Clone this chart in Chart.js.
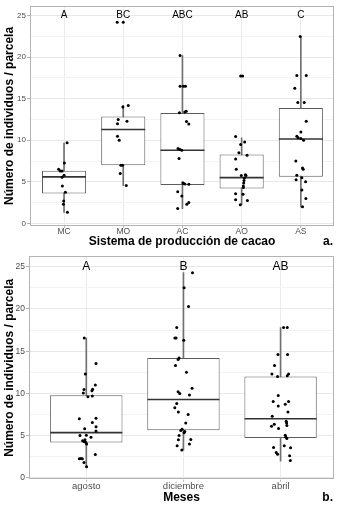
<!DOCTYPE html>
<html>
<head>
<meta charset="utf-8">
<script src="https://cdn.jsdelivr.net/npm/chart.js@4.4.1/dist/chart.umd.min.js"></script>
<style>
  html, body { margin: 0; padding: 0; background: #fff; overflow: hidden; }
  #panelA { position: relative; width: 343px; height: 250px; }
  #panelB { position: relative; width: 343px; height: 258px; }
  canvas { display: block; }
</style>
</head>
<body>
<div id="panelA"><canvas id="chartA"></canvas></div>
<div id="panelB"><canvas id="chartB"></canvas></div>
<script>
// ---- a. sistema de produccion ----
const sistemas = ['MC', 'MO', 'AC', 'AO', 'AS']
const letrasSistema = ['A', 'BC', 'ABC', 'AB', 'C']
const q1Sistema = [3.6, 7.0, 4.63, 4.2, 5.62]
const medianaSistema = [5.6, 11.3, 8.8, 5.5, 10.15]
const q3Sistema = [6.33, 12.85, 13.27, 8.28, 13.9]
const minSistema = [1.3, 4.55, 1.78, 2.26, 1.98]
const maxSistema = [9.67, 14.2, 20.2, 10.3, 22.47]
const puntosSistema = [
    [9.7, 7.25, 6.5, 6.3, 6.3, 5.8, 5.55, 4.5, 3.75, 2.7, 2.3, 1.35],
    [24.2, 24.2, 14.0, 14.2, 12.5, 12.0, 12.3, 10.5, 10.0, 7.0, 7.0, 6.0, 4.55],
    [20.2, 16.5, 16.5, 16.5, 13.5, 13.4, 13.3, 12.25, 11.95, 9.0, 8.9, 8.8, 7.8, 4.9, 4.8, 4.75, 4.7, 3.8, 3.3, 2.5, 2.3, 1.8],
    [17.75, 17.75, 10.45, 9.8, 9.5, 8.5, 8.2, 7.75, 6.5, 5.75, 5.85, 5.75, 5.45, 5.15, 4.85, 4.5, 4.3, 3.55, 3.5, 2.85, 2.75, 2.25],
    [22.5, 17.8, 17.8, 16.25, 14.55, 14.55, 12.3, 11.0, 10.5, 10.3, 10.2, 10.0, 7.5, 6.65, 6.5, 5.8, 5.5, 5.25, 5.0, 4.0, 3.0, 2.0]
]
// desplazamiento horizontal (jitter) de cada punto
const jitterSistema = [
    [0.051, 0.006, -0.091, -0.063, -0.034, 0, -0.034, -0.028, 0.023, -0.006, -0.011, 0.057],
    [-0.102, 0.0, -0.006, 0.085, -0.085, -0.097, 0.063, -0.097, -0.068, -0.04, -0.011, -0.051, 0.051],
    [-0.04, -0.04, 0.017, 0.051, 0.063, 0.04, -0.051, 0.068, 0.108, -0.074, -0.04, -0.011, -0.057, 0.006, 0.017, 0.04, 0.108, -0.08, -0.011, 0.108, 0.074, -0.08],
    [-0.017, 0.017, -0.102, 0.051, -0.017, -0.046, 0.091, -0.102, -0.091, -0.006, 0.063, 0.074, 0.046, 0.04, 0.034, 0.028, 0.028, -0.102, 0.023, -0.102, 0.097, -0.023],
    [-0.011, -0.068, 0.091, -0.102, -0.051, 0.057, 0.091, 0, -0.068, -0.046, 0, 0.046, -0.085, 0.028, 0.04, -0.068, 0.017, -0.08, 0.08, 0.017, 0.085, 0.028]
]

// ---- b. meses ----
const meses = ['agosto', 'diciembre', 'abril']
const letrasMes = ['A', 'B', 'AB']
const q1Mes = [4.17, 5.62, 4.72]
const medianaMes = [5.35, 9.28, 7.0]
const q3Mes = [9.79, 14.2, 12.0]
const minMes = [1.3, 3.27, 1.97]
const maxMes = [16.55, 24.3, 17.8]
const puntosMes = [
    [16.55, 13.55, 12.3, 11.0, 10.5, 10.45, 10.3, 10.05, 9.7, 9.6, 7.0, 7.05, 6.55, 6.05, 5.8, 5.55, 5.0, 5.05, 4.8, 4.5, 4.4, 4.3, 4.2, 4.0, 2.75, 2.3, 2.25, 2.25, 1.8, 1.3],
    [24.3, 22.5, 20.3, 17.8, 16.55, 16.55, 16.3, 14.2, 14.0, 13.3, 12.5, 10.6, 10.2, 10.0, 9.8, 8.8, 8.3, 7.8, 7.5, 6.5, 5.75, 5.6, 5.5, 5.35, 5.0, 4.55, 4.5, 4.0, 3.8, 3.3],
    [17.8, 17.8, 14.6, 14.6, 13.3, 12.3, 12.0, 12.1, 12.3, 9.75, 9.05, 9.05, 8.7, 8.5, 7.8, 7.3, 6.7, 6.5, 6.2, 6.35, 6.1, 5.85, 5.05, 4.8, 4.65, 3.8, 3.6, 3.55, 3.0, 2.8, 2.6, 2.05]
]
const jitterMes = [
    [-0.021, 0.1, -0.01, 0.093, 0.065, -0.024, 0.058, -0.031, 0.062, 0.017, -0.072, 0.1, 0.062, 0.1, -0.017, 0.1, -0.065, 0, 0.048, -0.014, -0.038, -0.024, -0.007, 0.003, 0.093, -0.055, -0.072, -0.041, -0.024, 0.003],
    [0.093, 0.007, 0.052, -0.069, -0.089, -0.076, 0.003, -0.045, -0.055, -0.082, 0.031, 0.089, -0.055, -0.038, 0.062, -0.069, -0.089, -0.052, 0.048, 0.024, -0.014, -0.027, 0.014, 0.007, -0.045, 0.076, -0.052, 0.062, -0.065, -0.017],
    [0.031, 0.069, -0.027, 0.072, -0.062, -0.089, -0.031, 0.069, 0.082, -0.024, -0.076, 0.082, 0.048, -0.024, 0.076, -0.086, 0.058, 0.062, 0.065, -0.065, -0.093, -0.021, 0.048, 0.055, 0.065, 0.038, -0.072, 0.103, -0.045, -0.031, 0.093, 0.1]
]

const ticksY = [0, 2.5, 5, 7.5, 10, 12.5, 15, 17.5, 20, 22.5, 25]
const tituloY = 'Número de individuos / parcela'

Chart.defaults.font.family = '"Liberation Sans", Arial, sans-serif'

// letras de significancia, borde del panel y etiqueta a./b.
const marcoPanel = {
    id: 'marcoPanel',
    afterDraw(chart, args, opts) {
        const { ctx, chartArea: a, scales: { x, y } } = chart
        ctx.save()
        ctx.fillStyle = '#000'
        ctx.textAlign = 'center'
        ctx.textBaseline = 'middle'
        ctx.font = opts.letraSize + 'px "Liberation Sans", Arial, sans-serif'
        opts.letras.forEach((l, i) => {
            ctx.fillText(l, x.getPixelForValue(i), y.getPixelForValue(25))
        })

        ctx.strokeStyle = '#b3b3b3'
        ctx.lineWidth = 1
        ctx.strokeRect(Math.round(a.left) + 0.5, Math.round(a.top) + 0.5, Math.round(a.width) - 1, Math.round(a.height) - 1)

        ctx.textAlign = 'right'
        ctx.font = 'bold 12px "Liberation Sans", Arial, sans-serif'
        ctx.fillText(opts.tag, a.right - 1, chart.height - opts.tagOffset)
        ctx.restore()
    }
}

function crearPanel(canvasId, d, s) {
    const bigotes = d.lo.map((v, i) => ({ x: i, y: [v, d.hi[i]] }))
    const cajas = d.q1.map((v, i) => ({ x: i, y: [v, d.q3[i]] }))
    const medianas = d.med.map((v, i) => ({ x: i, y: v }))
    const puntos = []
    d.puntos.forEach((grupo, i) => {
        grupo.forEach((v, k) => puntos.push({ x: i + d.jitter[i][k], y: v }))
    })

    return new Chart(document.getElementById(canvasId), {
        type: 'bar',
        data: {
            datasets: [
                { type: 'bar', data: bigotes, backgroundColor: '#707070', barThickness: 1, grouped: false, order: 4 },
                {
                    type: 'bar', data: cajas, backgroundColor: '#ffffff', borderColor: '#5c5c5c', borderWidth: 1,
                    borderSkipped: false, grouped: false, barPercentage: 0.745, categoryPercentage: 1, order: 3
                },
                {
                    type: 'scatter', data: medianas, pointStyle: 'line', pointRadius: s.medRadius, pointHoverRadius: s.medRadius,
                    pointBorderColor: '#333333', pointBorderWidth: 1.6, order: 2
                },
                {
                    type: 'scatter', data: puntos, pointRadius: 1.5, pointHoverRadius: 1.5,
                    pointBackgroundColor: '#000', pointBorderWidth: 0, order: 1
                }
            ]
        },
        options: {
            responsive: true,
            maintainAspectRatio: false,
            animation: false,
            events: [],
            layout: { autoPadding: false, padding: { top: s.padTop, right: 9, left: 0, bottom: 0 } },
            plugins: {
                legend: { display: false },
                tooltip: { enabled: false },
                marcoPanel: { letras: d.letras, letraSize: s.letraSize, tag: s.tag, tagOffset: s.tagOffset }
            },
            scales: {
                x: {
                    type: 'linear',
                    offset: false,
                    min: s.xMin,
                    max: s.xMax,
                    afterBuildTicks: ax => { ax.ticks = d.labels.map((l, i) => ({ value: i })) },
                    afterFit: ax => { ax.height = s.xHeight },
                    ticks: {
                        callback: v => d.labels[v],
                        color: '#4d4d4d',
                        font: { size: s.xTickSize, lineHeight: 1 },
                        padding: s.xTickPad,
                        maxRotation: 0,
                        autoSkip: false
                    },
                    grid: { offset: false, color: '#ebebeb', tickColor: '#b3b3b3', tickLength: 2 },
                    border: { display: false },
                    title: {
                        display: true, text: d.tituloX, color: '#000',
                        font: { size: 12, weight: 'bold' },
                        padding: { top: 0, bottom: s.titlePad }
                    }
                },
                y: {
                    min: s.yMin,
                    max: s.yMax,
                    afterBuildTicks: ax => { ax.ticks = ticksY.map(v => ({ value: v })) },
                    afterFit: ax => { ax.width = s.yWidth },
                    ticks: {
                        callback: v => (v % 5 === 0 ? String(v) : ''),
                        color: '#4d4d4d',
                        font: { size: s.yTickSize },
                        padding: 1,
                        autoSkip: false
                    },
                    grid: {
                        color: c => (c.tick && c.tick.value % 5 === 0 ? '#e8e8e8' : '#f3f3f3'),
                        tickColor: c => (c.tick && c.tick.value % 5 === 0 ? '#b3b3b3' : 'rgba(0,0,0,0)'),
                        tickLength: 3
                    },
                    border: { display: false },
                    title: {
                        display: true, text: tituloY, color: '#000',
                        font: { size: 12, weight: 'bold' },
                        padding: { top: 2, bottom: 0 }
                    }
                }
            }
        },
        plugins: [marcoPanel]
    })
}

crearPanel('chartA', {
    labels: sistemas, letras: letrasSistema, tituloX: 'Sistema de producción de cacao',
    q1: q1Sistema, med: medianaSistema, q3: q3Sistema, lo: minSistema, hi: maxSistema,
    puntos: puntosSistema, jitter: jitterSistema
}, {
    padTop: 3, xMin: -0.575, xMax: 4.56, yMin: -0.32, yMax: 26.19,
    xHeight: 24, yWidth: 30, xTickSize: 8.5, yTickSize: 8, xTickPad: -1, titlePad: 1,
    medRadius: 22, letraSize: 10, tag: 'a.', tagOffset: 8
})

crearPanel('chartB', {
    labels: meses, letras: letrasMes, tituloX: 'Meses',
    q1: q1Mes, med: medianaMes, q3: q3Mes, lo: minMes, hi: maxMes,
    puntos: puntosMes, jitter: jitterMes
}, {
    padTop: 5, xMin: -0.59, xMax: 2.55, yMin: -0.2, yMax: 26.26,
    xHeight: 28.5, yWidth: 29, xTickSize: 9.5, yTickSize: 8.5, xTickPad: 0, titlePad: 3,
    medRadius: 36, letraSize: 12, tag: 'b.', tagOffset: 10.3
})
</script>
</body>
</html>
